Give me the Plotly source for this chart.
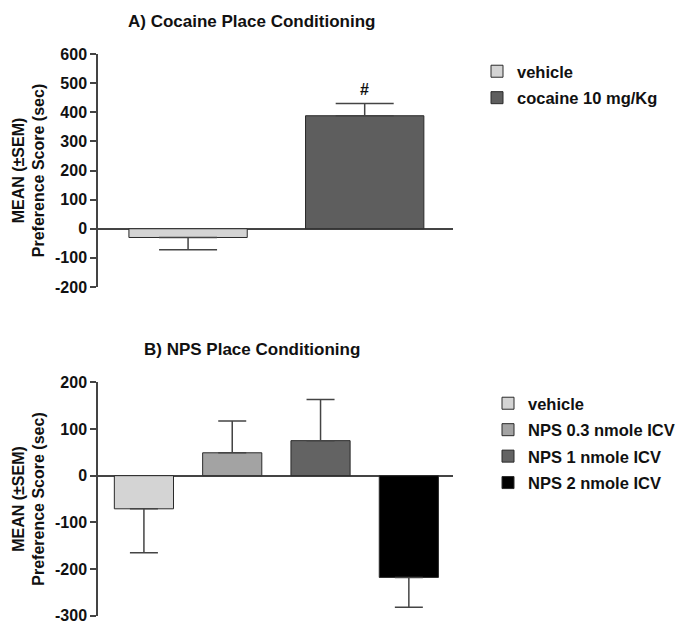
import plotly.graph_objects as go

# Panel A data
a_groups = ["vehicle", "cocaine 10 mg/Kg"]
a_means = [-30, 388]
a_sem = [42, 42]
a_colors = ["#d4d4d4", "#5e5e5e"]
a_ticks = [-200, -100, 0, 100, 200, 300, 400, 500, 600]

# Panel B data
b_groups = ["vehicle", "NPS 0.3 nmole ICV", "NPS 1 nmole ICV", "NPS 2 nmole ICV"]
b_means = [-71, 49, 75, -218]
b_sem = [94, 68, 88, 64]
b_colors = ["#d4d4d4", "#a3a3a3", "#636363", "#000000"]
b_ticks = [-300, -200, -100, 0, 100, 200]

# page body has an 8px margin; lay out in window pixels and convert
OFF = 8
W, H = 683 - OFF, 624 - OFF
def px(x):
    return (x - OFF) / W
def py(y):
    return 1 - (y - OFF) / H

FONT = "Liberation Sans, Arial, sans-serif"
AX = "#444444"

fig = go.Figure()

def add_bars(groups, means, sems, colors, xaxis, yaxis, legend, capw):
    for i, (g, m, s, c) in enumerate(zip(groups, means, sems, colors)):
        up = s if m >= 0 else 0
        dn = s if m < 0 else 0
        fig.add_trace(go.Bar(
            x=[i], y=[m], name=g, width=0.67,
            marker=dict(color=c, line=dict(color="#2a2a2a", width=1)),
            error_y=dict(type="data", symmetric=False, array=[up], arrayminus=[dn],
                         color=AX, thickness=1.5, width=capw),
            xaxis=xaxis, yaxis=yaxis, legend=legend, legendgroup=legend + str(i),
        ))

add_bars(a_groups, a_means, a_sem, a_colors, "x", "y", "legend", 29)
add_bars(b_groups, b_means, b_sem, b_colors, "x2", "y2", "legend2", 14)

xd = [px(98), px(453)]
ytitle = "MEAN (±SEM)<br>Preference Score (sec)"
tickfont = dict(family=FONT, size=16, color="#111", weight="bold")
yax_common = dict(showline=True, linecolor=AX, linewidth=1.5, ticks="outside",
                  ticklen=6, tickwidth=1.5, tickcolor=AX, tickfont=tickfont,
                  zeroline=True, zerolinecolor=AX, zerolinewidth=1.5,
                  showgrid=False, fixedrange=True, automargin=False,
                  ticklabeloverflow="allow",
                  title=dict(text=ytitle, standoff=6,
                             font=dict(family=FONT, size=16, color="#111", weight="bold")))

lfont = dict(family=FONT, size=16.5, color="#111", weight="bold")
fig.update_layout(
    template="none",
    width=W, height=H, margin=dict(l=0, r=0, t=0, b=0, autoexpand=False),
    paper_bgcolor="white", plot_bgcolor="white", barmode="overlay",
    showlegend=True,
    xaxis=dict(domain=xd, range=[-0.51, 1.5], visible=False, anchor="y"),
    yaxis=dict(domain=[py(287), py(54)], range=[-200, 600],
               tickvals=a_ticks, ticktext=[str(v) for v in a_ticks],
               anchor="x", **yax_common),
    xaxis2=dict(domain=xd, range=[-0.52, 3.5], visible=False, anchor="y2"),
    yaxis2=dict(domain=[py(615.7), py(382.3)], range=[-300, 200],
                tickvals=b_ticks, ticktext=[str(v) for v in b_ticks],
                anchor="x2", **yax_common),
    legend=dict(x=px(477), y=py(54), xanchor="left", yanchor="top",
                font=lfont, tracegroupgap=2, bgcolor="rgba(0,0,0,0)"),
    legend2=dict(x=px(488), y=py(386), xanchor="left", yanchor="top",
                 font=lfont, tracegroupgap=2, bgcolor="rgba(0,0,0,0)"),
)

tfont = dict(family=FONT, size=17, color="#111", weight="bold")
fig.add_annotation(text="A) Cocaine Place Conditioning", x=px(252), y=py(22),
                   xref="paper", yref="paper", yanchor="middle", showarrow=False, font=tfont)
fig.add_annotation(text="B) NPS Place Conditioning", x=px(252), y=py(349),
                   xref="paper", yref="paper", yanchor="middle", showarrow=False, font=tfont)
fig.add_annotation(text="#", x=1, y=a_means[1] + a_sem[1], xref="x", yref="y",
                   yanchor="bottom", yshift=4, showarrow=False,
                   font=dict(family=FONT, size=16, color="#111", weight="bold"))

fig.write_html("out.html")
